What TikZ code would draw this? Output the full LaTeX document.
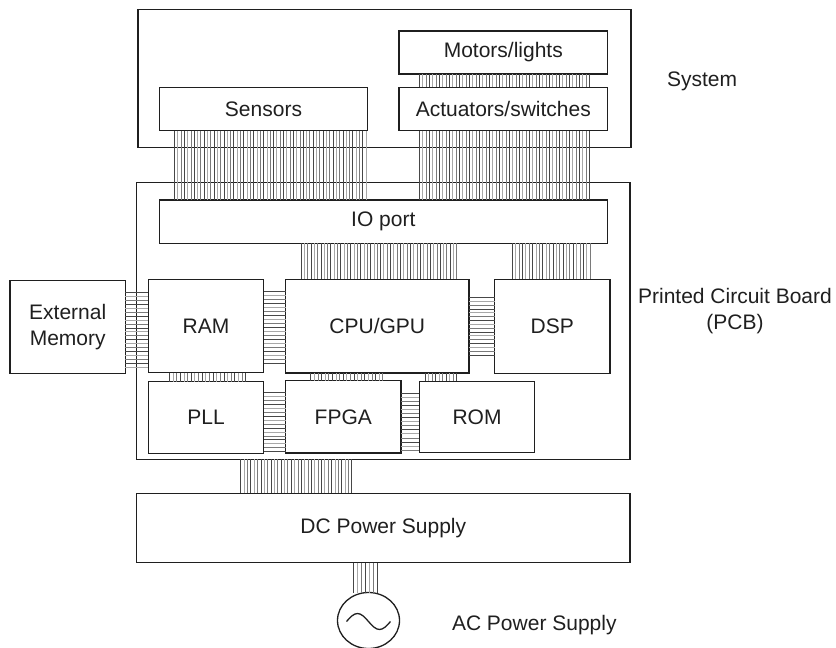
\documentclass[tikz,border=0pt]{standalone}
\usepackage{fontspec}
\setmainfont{Liberation Sans}
\usetikzlibrary{shapes.geometric}
\definecolor{wire0}{gray}{0.28}
\definecolor{wire1}{gray}{0.66}
\definecolor{wire2}{gray}{0.48}
\definecolor{ink}{gray}{0.12}
% vertical bundle: #1 upper node, #2 lower node, #3 x from, #4 x to, #5 pitch
\newcommand\vbus[5]{%
  \pgfmathtruncatemacro\nn{(#4-#3)/#5}%
  \foreach \k in {0,...,\nn}{%
    \pgfmathsetmacro\xx{#3+\k*(#4-#3)/\nn}%
    \pgfmathtruncatemacro\cc{mod(\k,3)}%
    \draw[wire, draw=wire\cc] (\xx,0 |- #1.south) -- (\xx,0 |- #2.north);}}
% horizontal bundle: #1 left node, #2 right node, #3 y from, #4 y to, #5 pitch
\newcommand\hbus[5]{%
  \pgfmathtruncatemacro\nn{(#4-#3)/#5}%
  \foreach \k in {0,...,\nn}{%
    \pgfmathsetmacro\yy{#3+\k*(#4-#3)/\nn}%
    \pgfmathtruncatemacro\cc{mod(\k,3)}%
    \draw[wire, draw=wire\cc] (0,\yy -| #1.east) -- (0,\yy -| #2.west);}}
\begin{document}
\begin{tikzpicture}[x=1pt,y=-1pt,
  box/.style={draw=ink, line width=1.3pt, rectangle, inner sep=0pt, outer sep=0pt,
    font=\fontsize{21}{25.5}\selectfont, text=ink, align=center},
  lbl/.style={inner sep=0pt, outer sep=0pt, font=\fontsize{21}{26.5}\selectfont, text=ink, align=center},
  wire/.style={line width=0.65pt}]
\useasboundingbox (0,0) rectangle (836,648);

% containers
\node[box, minimum width=493pt, minimum height=138.2pt] (sys) at (384.5,78.4) {};
\node[box, minimum width=493.3pt, minimum height=277pt] (pcb) at (383.3,320.8) {};

% system parts
\node[box, minimum width=208.7pt, minimum height=43pt] (motors) at (503.3,52.5) {Motors/lights};
\node[box, minimum width=208.7pt, minimum height=43.4pt] (act) at (503.3,109) {Actuators/switches};
\node[box, minimum width=208.4pt, minimum height=43.4pt] (sensors) at (263.5,109) {Sensors};

% board parts
\node[box, minimum width=448pt, minimum height=43.3pt] (io) at (383.3,221.7) {IO port};
\node[box, minimum width=115.4pt, minimum height=93.4pt] (ram) at (206,326) {RAM};
\node[box, minimum width=183.3pt, minimum height=93.7pt] (cpu) at (377.3,326.2) {CPU/GPU};
\node[box, minimum width=115.3pt, minimum height=94pt] (dsp) at (552.3,326.3) {DSP};
\node[box, minimum width=115.3pt, minimum height=93pt] (ext) at (67.7,327.2) {External\\Memory};
\node[box, minimum width=115.4pt, minimum height=71.6pt] (pll) at (206,417.5) {PLL};
\node[box, minimum width=115.3pt, minimum height=72.3pt] (fpga) at (343.3,416.8) {FPGA};
\node[box, minimum width=115.4pt, minimum height=71.4pt] (rom) at (477,417) {ROM};

% power
\node[box, minimum width=493.3pt, minimum height=69.4pt] (dc) at (383.3,528) {DC Power Supply};
\node[box, ellipse, minimum width=62pt, minimum height=56pt] (ac) at (368.5,620.5) {};
\draw[ink, line width=1.3pt] ([xshift=-22pt,yshift=-1pt]ac.center) sin ++(11,-8) cos ++(11,8) sin ++(11,8) cos ++(11,-8);

% side labels
\node[lbl, anchor=base west] (lsys) at (667,86) {System};
\node[lbl, anchor=north] (lpcb) at (735,288) {Printed Circuit Board\\(PCB)};
\node[lbl, anchor=base west] (lac) at (452,630) {AC Power Supply};

% bundles
\vbus{sensors}{io}{174.3}{366}{3.3}
\vbus{motors}{act}{419.3}{589.3}{3.3}
\vbus{act}{io}{419.3}{589.3}{3.3}
\vbus{io}{cpu}{301}{456.7}{3.3}
\vbus{io}{dsp}{512.3}{590}{3.3}
\vbus{ram}{pll}{169.3}{245.7}{3.5}
\vbus{cpu}{fpga}{310.7}{382.7}{3.5}
\vbus{cpu}{rom}{425}{456.7}{3.5}
\vbus{pcb}{dc}{240.7}{351.7}{3.3}
\vbus{dc}{ac}{353.3}{377.7}{3.5}
\hbus{ext}{ram}{292.3}{367.3}{3.8}
\hbus{ram}{cpu}{291.7}{363.3}{3.8}
\hbus{cpu}{dsp}{297.3}{355}{3.8}
\hbus{pll}{fpga}{392.3}{451.7}{3.8}
\hbus{fpga}{rom}{393.3}{450}{3.8}
\end{tikzpicture}
\end{document}
